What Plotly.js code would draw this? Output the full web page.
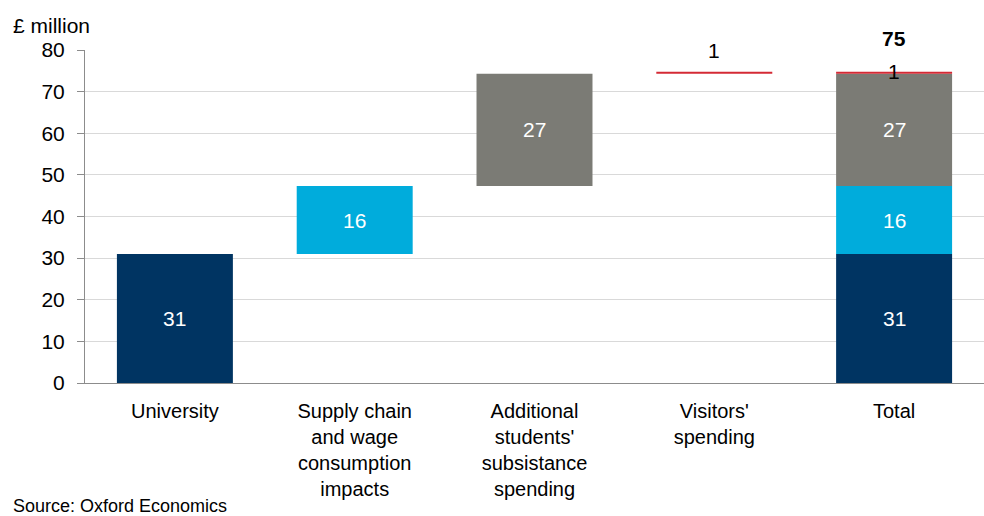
<!DOCTYPE html>
<html><head><meta charset="utf-8">
<script src="https://cdn.plot.ly/plotly-3.0.1.min.js"></script>
<style>html,body{margin:0;padding:0;background:#fff}#c{width:984px;height:516px}</style>
</head><body><div id="c"></div>
<script>
const categories = ["University", "Supply chain<br>and wage<br>consumption<br>impacts", "Additional<br>students'<br>subsistance<br>spending", "Visitors'<br>spending", "Total"];
const components = ["University", "Supply chain", "Students", "Visitors"];
const values = [31.0, 16.3, 27.0, 0.5];
const labels = ["31", "16", "27", "1"];
const totalLabel = "75";
const colors = ["#003462", "#00acdc", "#7b7b75", "#d42a35"];
const FONT = 'Liberation Sans, Arial, sans-serif';

const traces = [];
const annotations = [];
let cum = 0;
for (let i = 0; i < values.length; i++) {
  traces.push({
    type: 'bar',
    x: [categories[i], categories[4]],
    y: [values[i], values[i]],
    base: [cum, cum],
    width: 0.645,
    marker: {color: colors[i], line: {width: 0}},
    hoverinfo: 'skip',
    showlegend: false
  });
  if (i < 3) {
    [categories[i], categories[4]].forEach(cx => annotations.push({
      x: cx, y: cum + values[i] / 2, xref: 'x', yref: 'y', text: labels[i],
      showarrow: false, font: {family: FONT, size: 21, color: '#ffffff'}
    }));
  } else {
    annotations.push({x: categories[i], y: cum + values[i], xref: 'x', yref: 'y', yanchor: 'bottom', yshift: 8,
      text: labels[i], showarrow: false, font: {family: FONT, size: 21, color: '#000'}});
    annotations.push({x: categories[4], y: cum + values[i] / 2, xref: 'x', yref: 'y', yshift: 1,
      text: labels[i], showarrow: false, font: {family: FONT, size: 21, color: '#000'}});
  }
  cum += values[i];
}
annotations.push({x: categories[4], y: cum, xref: 'x', yref: 'y', yanchor: 'bottom', yshift: 20,
  text: '<b>' + totalLabel + '</b>', showarrow: false, font: {family: FONT, size: 21, color: '#000'}});
annotations.push({text: '£ million', showarrow: false, xref: 'paper', yref: 'paper',
  font: {family: FONT, size: 21, color: '#000'}});
annotations.push({text: 'Source: Oxford Economics', showarrow: false, xref: 'paper', yref: 'paper',
  font: {family: FONT, size: 18, color: '#000'}});
const W = 984, H = 516, mL = 85, mR = 0, mT = 50, mB = 133;
const pw = W - mL - mR, ph = H - mT - mB;
const pa = annotations[annotations.length - 2];
pa.x = (11 - mL) / pw; pa.y = (H - mB - 25) / ph; pa.xanchor = 'left'; pa.yanchor = 'middle';
const sa = annotations[annotations.length - 1];
sa.x = (11 - mL) / pw; sa.y = (H - mB - 506) / ph; sa.xanchor = 'left'; sa.yanchor = 'middle';

const layout = {
  width: W, height: H,
  margin: {l: mL, r: mR, t: mT, b: mB, pad: 0},
  paper_bgcolor: '#fff', plot_bgcolor: '#fff',
  barmode: 'overlay',
  font: {family: FONT, size: 20, color: '#000'},
  xaxis: {type: 'category', categoryorder: 'array', categoryarray: categories, range: [-0.5, 4.5],
    showline: true, linecolor: '#8c8c8c', linewidth: 1, ticks: '', showgrid: false, zeroline: false,
    tickfont: {size: 20, color: '#000'}, ticklabelstandoff: 10, automargin: false},
  yaxis: {range: [0, 80], dtick: 10, tick0: 0, showline: true, linecolor: '#8c8c8c', linewidth: 1,
    ticks: 'outside', ticklen: 7, tickcolor: '#8c8c8c', showgrid: true, gridcolor: '#d9d9d9', gridwidth: 1,
    zeroline: false, tickfont: {size: 21, color: '#000'}, ticklabelstandoff: 8, automargin: false},
  annotations: annotations
};
Plotly.newPlot('c', traces, layout, {staticPlot: true, displayModeBar: false});
</script></body></html>
